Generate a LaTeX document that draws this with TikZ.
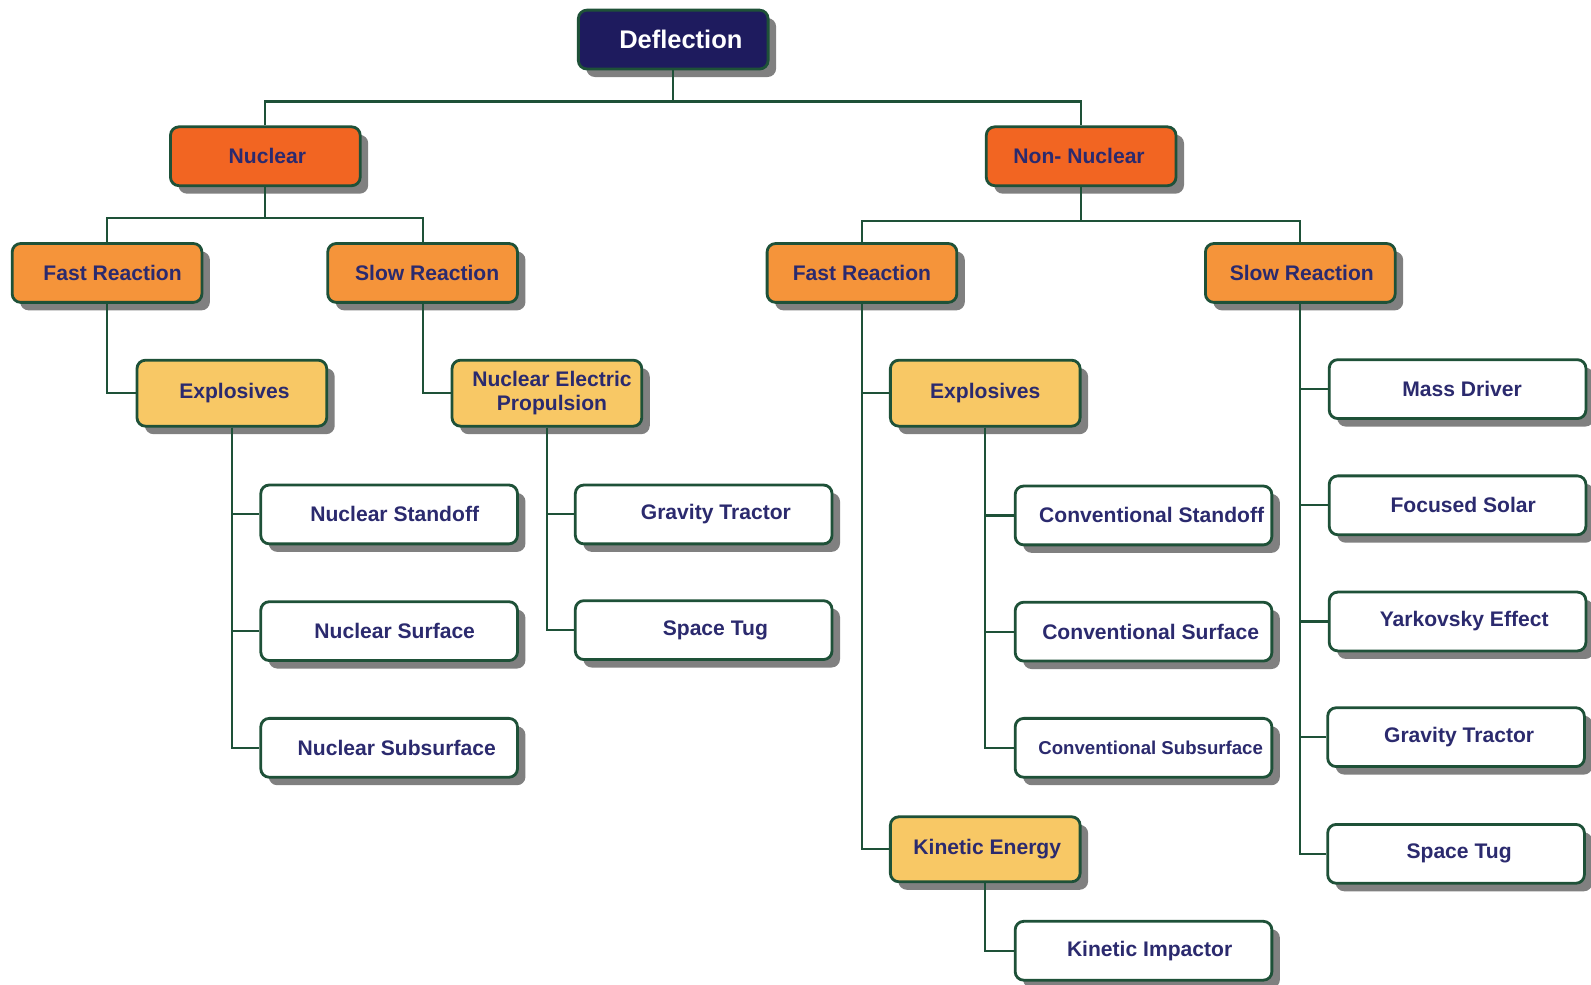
\documentclass[tikz,border=0pt]{standalone}
\usepackage{fontspec}
\setmainfont{Liberation Sans}
\usetikzlibrary{shadows}
\definecolor{navyfill}{HTML}{1E1B5E}
\definecolor{orangeA}{HTML}{F26522}
\definecolor{orangeB}{HTML}{F5943A}
\definecolor{yellowC}{HTML}{F8C865}
\definecolor{bordergreen}{HTML}{1E5138}
\definecolor{txt}{HTML}{2B2A6E}
\definecolor{shadowgray}{HTML}{808080}
\newdimen\pxu \pxu=0.0406cm
\newcommand\shx[1]{\hspace*{#1\pxu}}
\tikzset{
  base/.style={draw=bordergreen, line width=1.6pt, rounded corners=0.17cm,
    text=txt, font=\bfseries\fontsize{12}{14}\selectfont, align=center, inner sep=2pt,
    drop shadow={shadow xshift=0.16cm, shadow yshift=-0.16cm, fill=shadowgray, opacity=1}},
  topbox/.style={base, fill=navyfill, text=white, font=\bfseries\fontsize{14.5}{17}\selectfont,
    minimum width=3.795cm, minimum height=1.177cm},
  lvlone/.style={base, fill=orangeA, minimum width=3.795cm, minimum height=1.177cm},
  lvltwo/.style={base, fill=orangeB, minimum width=3.795cm, minimum height=1.177cm},
  lvlthree/.style={base, fill=yellowC, minimum width=3.795cm, minimum height=1.32cm},
  leaf/.style={base, fill=white, minimum width=5.134cm, minimum height=1.177cm},
  conn/.style={draw=bordergreen, line width=1.2pt}
}
\begin{document}
\begin{tikzpicture}[x=0.020294cm, y=-0.020294cm]
\useasboundingbox (0,0) rectangle (1568,970);
\node[topbox] (defl) at (663.5,39) {\shx{7.5}Deflection};
\node[lvlone] (nuc) at (261.5,154) {\shx{2}Nuclear};
\node[lvlone] (nnuc) at (1065.5,154) {\shx{-2}Non- Nuclear};
\node[lvltwo] (fastL) at (105.5,269) {\shx{5.5}Fast Reaction};
\node[lvltwo] (slowL) at (416.5,269) {\shx{4.5}Slow Reaction};
\node[lvltwo] (fastR) at (849.5,269) {Fast Reaction};
\node[lvltwo] (slowR) at (1281.5,269) {\shx{1.5}Slow Reaction};
\node[lvlthree] (explL) at (228.5,387.5) {\shx{2.5}Explosives};
\node[lvlthree] (nep) at (539,387.5) {\shx{5}Nuclear Electric\\\shx{5}Propulsion};
\node[lvlthree] (explR) at (971,387.5) {Explosives};
\node[lvlthree, minimum height=1.3cm] (kin) at (971,837) {\shx{2}Kinetic Energy};
\node[leaf] (nstand) at (383.5,507) {\shx{5.5}Nuclear Standoff};
\node[leaf] (nsurf) at (383.5,622) {\shx{5.5}Nuclear Surface};
\node[leaf] (nsub) at (383.5,737) {\shx{7.5}Nuclear Subsurface};
\node[leaf] (gtA) at (693.5,507) {\shx{12}Gravity Tractor};
\node[leaf] (tugA) at (693.5,621) {\shx{11.5}Space Tug};
\node[leaf] (cstand) at (1127,508) {\shx{8}Conventional Standoff};
\node[leaf] (csurf) at (1127,622.5) {\shx{7}Conventional Surface};
\node[leaf, font=\bfseries\fontsize{10.6}{13}\selectfont] (csub) at (1127,737) {\shx{7}Conventional Subsurface};
\node[leaf] (kimp) at (1127,937) {\shx{6}Kinetic Impactor};
\node[leaf] (mass) at (1436.5,383.5) {\shx{4.5}Mass Driver};
\node[leaf] (foc) at (1436.5,498) {\shx{5.5}Focused Solar};
\node[leaf] (yark) at (1436.5,612.5) {\shx{6.5}Yarkovsky Effect};
\node[leaf] (gtB) at (1435,726.5) {\shx{3}Gravity Tractor};
\node[leaf] (tugB) at (1435,841.5) {\shx{3}Space Tug};
\coordinate (busA) at (663.5,100);
\coordinate (busB) at (261.5,215);
\coordinate (busC) at (1065.5,218);
\draw[conn] (defl.south) -- (busA);
\draw[conn] (nuc.north) |- (busA) -| (nnuc.north);
\draw[conn] (nuc.south) -- (busB);
\draw[conn] (fastL.north) |- (busB) -| (slowL.north);
\draw[conn] (nnuc.south) -- (busC);
\draw[conn] (fastR.north) |- (busC) -| (slowR.north);
\draw[conn] (fastL.south) |- (explL.west);
\draw[conn] (slowL.south) |- (nep.west);
\draw[conn] (explL.south) |- (nstand.west);
\draw[conn] (explL.south) |- (nsurf.west);
\draw[conn] (explL.south) |- (nsub.west);
\draw[conn] (nep.south) |- (gtA.west);
\draw[conn] (nep.south) |- (tugA.west);
\draw[conn] (fastR.south) |- (explR.west);
\draw[conn] (fastR.south) |- (kin.west);
\draw[conn] (explR.south) |- (cstand.west);
\draw[conn] (explR.south) |- (csurf.west);
\draw[conn] (explR.south) |- (csub.west);
\draw[conn] (kin.south) |- (kimp.west);
\draw[conn] (slowR.south) |- (mass.west);
\draw[conn] (slowR.south) |- (foc.west);
\draw[conn] (slowR.south) |- (yark.west);
\draw[conn] (slowR.south) |- (gtB.west);
\draw[conn] (slowR.south) |- (tugB.west);
\end{tikzpicture}
\end{document}
